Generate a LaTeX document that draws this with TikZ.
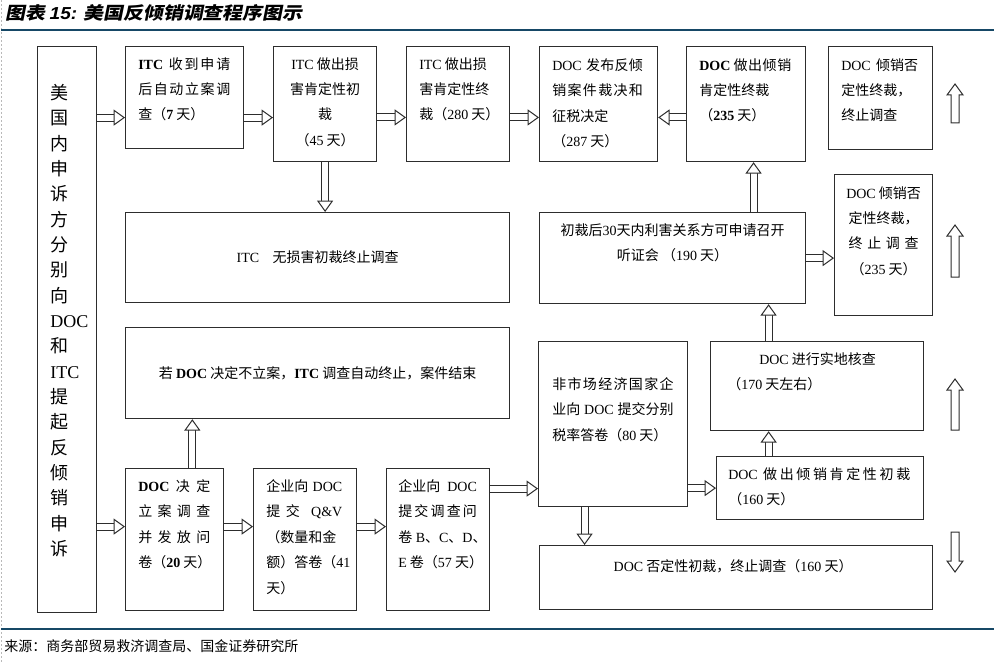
\documentclass[tikz,border=0pt]{standalone}
\usepackage{fontspec}
\setmainfont{Noto Sans CJK SC}
\newfontfamily\romfont{Liberation Serif}
\newfontfamily\titlefont[FakeSlant=0.2,FakeStretch=1.15]{Noto Sans CJK SC}
\newfontfamily\titlelat[FakeStretch=1.1]{Liberation Sans}
\usetikzlibrary{arrows.meta}
\newcommand\tmr[1]{{\romfont #1}}
\newcommand\jst[2]{\makebox[#1pt][s]{#2}}
\definecolor{rulecol}{RGB}{22,72,102}
\definecolor{boxcol}{RGB}{45,45,45}
\newcommand\bx[5]{\node[box, minimum width={(#4)*0.75pt}, minimum height={(#5)*0.75pt}] (#1) at (#2,#3) {};}
\newcommand\myup[3]{\draw[sarrow] (#1-4,#3) -- (#1-4,#2+11) -- (#1-8,#2+11) -- (#1,#2) -- (#1+8,#2+11) -- (#1+4,#2+11) -- (#1+4,#3) -- cycle;}
\newcommand\mydn[3]{\draw[sarrow] (#1-4,#2) -- (#1-4,#3-11) -- (#1-8,#3-11) -- (#1,#3) -- (#1+8,#3-11) -- (#1+4,#3-11) -- (#1+4,#2) -- cycle;}
\tikzset{
 box/.style={draw=boxcol, line width=0.9pt, inner sep=0pt, anchor=north west},
 txt/.style={inner sep=0pt, anchor=north west, align=left, font=\fontsize{10.5}{19.1}\selectfont, execute at begin node={\rule{0pt}{1em}}},
 ctxt/.style={txt, anchor=north, align=center},
 mtxt/.style={inner sep=0pt, anchor=center, font=\fontsize{10.5}{19.1}\selectfont},
 barrow/.style={draw=boxcol, line width=0.75pt, double=white, double distance=4.5pt, -{Triangle[length=8.5pt,width=12pt,fill=white,line width=0.75pt]}},
 sarrow/.style={draw=boxcol, line width=0.75pt, fill=white},
}
\begin{document}
\begin{tikzpicture}[x=0.75pt,y=-0.75pt]
\useasboundingbox (0,0) rectangle (994,663);
\draw[gray!55, line width=0.5pt, dash pattern=on 1.5pt off 1.5pt] (1,0) -- (1,663);
% title and rules
\node[anchor=west, inner sep=0pt, font=\fontsize{13}{15}\selectfont] (title) at (5,13) {\titlefont\bfseries 图表 {\titlelat\bfseries\itshape 15:} 美国反倾销调查程序图示};
\draw[rulecol, line width=1.1pt] (1,30) -- (994,30);
\draw[rulecol, line width=1.1pt] (1,629) -- (994,629);
\node[anchor=west, inner sep=0pt, font=\fontsize{10.5}{12}\selectfont] (source) at (4,646) {来源：商务部贸易救济调查局、国金证券研究所};
% boxes
\bx{side}{37}{46}{59}{566}
\bx{A}{125}{46}{118}{102}
\bx{B}{273}{46}{103}{115}
\bx{C}{406}{46}{103}{115}
\bx{D}{539}{46}{118}{115}
\bx{E}{686}{46}{119}{115}
\bx{F}{828}{46}{104}{103}
\bx{G}{125}{212}{384}{90}
\bx{H}{539}{212}{266}{91}
\bx{I}{834}{174}{98}{141}
\bx{J}{125}{327}{384}{91}
\bx{K}{125}{468}{98}{142}
\bx{L}{253}{468}{103}{142}
\bx{M}{386}{468}{103}{142}
\bx{N}{538}{341}{149}{165}
\bx{O}{710}{341}{213}{89}
\bx{P}{716}{456}{207}{63}
\bx{Q}{539}{545}{393}{64}
% texts
\node[txt, font=\fontsize{13.5}{19}\selectfont] (sidet) at ([shift={(13,38)}]side.north west) {美\\国\\内\\申\\诉\\方\\分\\别\\向\\\tmr{DOC}\\和\\\tmr{ITC}\\提\\起\\反\\倾\\销\\申\\诉};
\node[txt] (At) at ([shift={(13,11)}]A.north west) {\jst{69}{\tmr{\bfseries ITC}\hspace{3pt}\hfill 收\hfill 到\hfill 申\hfill 请}\\\jst{69}{后\hfill 自\hfill 动\hfill 立\hfill 案\hfill 调}\\查（\tmr{\bfseries 7} 天）};
\node[ctxt] (Bt) at ([shift={(0,11)}]B.north) {\tmr{ITC} 做出损\\害肯定性初\\裁\\（\tmr{45} 天）};
\node[txt] (Ct) at ([shift={(13,11)}]C.north west) {\tmr{ITC} 做出损\\害肯定性终\\裁（\tmr{280} 天）};
\node[txt] (Dt) at ([shift={(13,12)}]D.north west) {\jst{68}{\tmr{DOC}\hspace{3pt}\hfill 发\hfill 布\hfill 反\hfill 倾}\\\jst{68}{销\hfill 案\hfill 件\hfill 裁\hfill 决\hfill 和}\\征税决定\\（\tmr{287} 天）};
\node[txt] (Et) at ([shift={(13,12)}]E.north west) {\jst{69}{\tmr{\bfseries DOC}\hspace{2pt}\hfill 做\hfill 出\hfill 倾\hfill 销}\\肯定性终裁\\（\tmr{\bfseries 235} 天）};
\node[txt] (Ft) at ([shift={(13,12)}]F.north west) {\jst{57}{\tmr{DOC}\hspace{4pt}\hfill 倾\hfill 销\hfill 否}\\定性终裁，\\终止调查};
\node[mtxt] (Gt) at (G.center) {\tmr{ITC}\hspace{10pt}无损害初裁终止调查};
\node[ctxt] (Ht) at ([shift={(0,11)}]H.north) {初裁后\tmr{30}天内利害关系方可申请召开\\听证会 （\tmr{190} 天）};
\node[ctxt] (It) at ([shift={(0,12)}]I.north) {\tmr{DOC} 倾销否\\定性终裁，\\\jst{52.5}{终\hfill 止\hfill 调\hfill 查}\\（\tmr{235} 天）};
\node[mtxt] (Jt) at (J.center) {若 \tmr{\bfseries DOC} 决定不立案，\tmr{\bfseries ITC} 调查自动终止，案件结束};
\node[txt] (Kt) at ([shift={(13,11)}]K.north west) {\jst{54}{\tmr{\bfseries DOC}\hfill 决\hfill 定}\\\jst{54}{立\hfill 案\hfill 调\hfill 查}\\\jst{54}{并\hfill 发\hfill 放\hfill 问}\\卷（\tmr{\bfseries 20} 天）};
\node[txt] (Lt) at ([shift={(13,11)}]L.north west) {\jst{57}{企业向\hfill\tmr{DOC}}\\\jst{57}{提\hfill 交\hfill\hfill\tmr{Q\&V}}\\（数量和金\\额）答卷（\tmr{41}\\天）};
\node[txt] (Mt) at ([shift={(12,11)}]M.north west) {\jst{59}{企业向\hfill\tmr{DOC}}\\\jst{59}{提\hfill 交\hfill 调\hfill 查\hfill 问}\\卷\tmr{ B}、\tmr{C}、\tmr{D}、\\\tmr{E} 卷（\tmr{57} 天）};
\node[txt] (Nt) at ([shift={(14,36)}]N.north west) {\jst{91}{非\hfill 市\hfill 场\hfill 经\hfill 济\hfill 国\hfill 家\hfill 企}\\\jst{91}{业向\hfill\tmr{DOC}\hfill 提交分别}\\税率答卷（\tmr{80} 天）};
\node[txt] (Ot) at ([shift={(17,11)}]O.north west) {\hspace*{24pt}\tmr{DOC} 进行实地核查\\（\tmr{170} 天左右）};
\node[txt] (Pt) at ([shift={(12,11)}]P.north west) {\jst{136.5}{\tmr{DOC}\hfill\hfill 做\hfill 出\hfill 倾\hfill 销\hfill 肯\hfill 定\hfill 性\hfill 初\hfill 裁}\\（\tmr{160} 天）};
\node[ctxt] (Qt) at ([shift={(-3,12)}]Q.north) {\tmr{DOC} 否定性初裁，终止调查（\tmr{160} 天）};
% connectors
\draw[barrow] ([yshift=-15pt]A.west -| side.east) -- ([yshift=-15pt]A.west);
\draw[barrow] ([yshift=-15pt]A.east) -- ([yshift=-15pt]A.east -| B.west);
\draw[barrow] ([yshift=-10pt]B.east) -- ([yshift=-10pt]C.west);
\draw[barrow] ([yshift=-10pt]C.east) -- ([yshift=-10pt]D.west);
\draw[barrow] ([yshift=-10pt]E.west) -- ([yshift=-10pt]D.east);
\draw[barrow] (B.south) -- (B.south |- G.north);
\draw[barrow] ([xshift=5.6pt]E.south |- H.north) -- ([xshift=5.6pt]E.south);
\draw[barrow] (H.east) -- (H.east -| I.west);
\draw[barrow] ([xshift=-36.4pt]O.north) -- ([xshift=-36.4pt]O.north |- H.south);
\draw[barrow] ([xshift=-38.6pt]P.north) -- ([xshift=-38.6pt]P.north |- O.south);
\draw[barrow] ([xshift=13.3pt]K.north) -- ([xshift=13.3pt]K.north |- J.south);
\draw[barrow] ([yshift=9.75pt]K.west -| side.east) -- ([yshift=9.75pt]K.west);
\draw[barrow] ([yshift=9.75pt]K.east) -- ([yshift=9.75pt]L.west);
\draw[barrow] ([yshift=9.75pt]L.east) -- ([yshift=9.75pt]M.west);
\draw[barrow] ([yshift=38.25pt]M.east) -- ([yshift=38.25pt]M.east -| N.west);
\draw[barrow] (P.west -| N.east) -- (P.west);
\draw[barrow] ([xshift=-21.4pt]N.south) -- ([xshift=-21.4pt]N.south |- Q.north);
% free standing arrows
\myup{955}{84}{123}
\myup{955}{225}{277}
\myup{955}{379}{430}
\mydn{955}{532}{572}
\end{tikzpicture}
\end{document}
